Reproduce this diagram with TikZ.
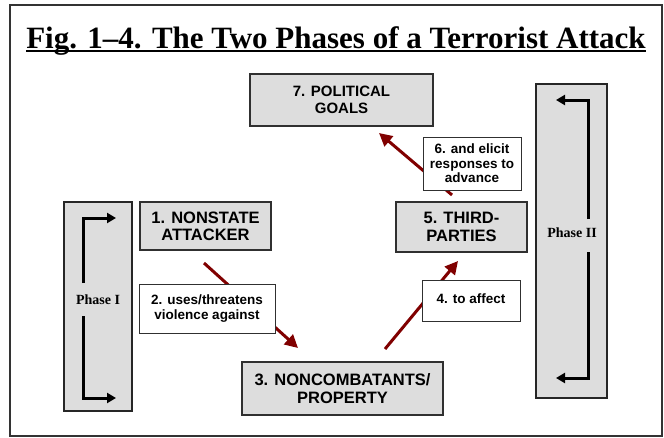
\documentclass[tikz,border=0pt]{standalone}
\usepackage{fontspec}
\setmainfont{Liberation Serif}
\setsansfont{Liberation Sans}
\usetikzlibrary{arrows.meta}

\definecolor{boxgray}{HTML}{DDDDDD}
\definecolor{edgegray}{HTML}{303030}
\definecolor{arrowred}{HTML}{800000}

\tikzset{
    graybox/.style={draw=edgegray, line width=1.3pt, fill=boxgray, align=center, inner sep=0pt},
    labelbox/.style={draw=edgegray, line width=0.8pt, fill=white, align=center, inner sep=0pt,
        font=\sffamily\bfseries\fontsize{13.5}{14.5}\selectfont},
    phasebox/.style={draw=black!85, line width=1.5pt, fill=boxgray, inner sep=0pt},
    phaselabel/.style={font=\bfseries\fontsize{14}{14}\selectfont},
    redarrow/.style={draw=arrowred, line width=3pt, -{Triangle[length=13pt,width=13pt]}},
    phasearrow/.style={draw=black, line width=3pt, -{Triangle[length=9pt,width=10pt]}},
}

\begin{document}
\begin{tikzpicture}[x=1pt, y=-1pt]

    \useasboundingbox (0,0) rectangle (664,437);

    % Marco y titulo
    \draw[line width=1.5pt, draw=black!80] (10,5) rectangle (662,436);
    \node[anchor=base, inner sep=0pt, font=\bfseries\fontsize{31}{31}\selectfont] (title) at (336,48)
        {Fig. 1–4. The Two Phases of a Terrorist Attack};
    \draw[line width=1.8pt] ([yshift=-3pt]title.base west) -- ([yshift=-3pt]title.base east);

    % Cajas de las fases
    \node[phasebox, minimum width=68pt, minimum height=209pt] (phaseIbox) at (98,306.5) {};
    \node[phasebox, minimum width=71pt, minimum height=314pt] (phaseIIbox) at (571.5,241) {};
    \node[phaselabel] (phaseI) at (98,300) {Phase I};
    \node[phaselabel] (phaseII) at (572,233) {Phase II};

    % Flechas de las fases
    \coordinate (pIup) at (83,283);   \coordinate (pIupend) at (116,218);
    \coordinate (pIdown) at (83,316); \coordinate (pIdownend) at (116,398);
    \coordinate (pIIup) at (588,219);   \coordinate (pIIupend) at (556,100);
    \coordinate (pIIdown) at (588,252); \coordinate (pIIdownend) at (556,378);
    \draw[phasearrow] (pIup) |- (pIupend);
    \draw[phasearrow] (pIdown) |- (pIdownend);
    \draw[phasearrow] (pIIup) |- (pIIupend);
    \draw[phasearrow] (pIIdown) |- (pIIdownend);

    % Cajas grises
    \node[graybox, minimum width=183pt, minimum height=52pt, font=\sffamily\bfseries\fontsize{15}{17}\selectfont]
        (goals) at (341.5,100) {7. POLITICAL\\GOALS};
    \node[graybox, minimum width=131pt, minimum height=48pt, font=\sffamily\bfseries\fontsize{16.5}{17}\selectfont]
        (attacker) at (205.5,226) {1. NONSTATE\\ATTACKER};
    \node[graybox, minimum width=201pt, minimum height=53pt, font=\sffamily\bfseries\fontsize{16.5}{18}\selectfont]
        (targets) at (342.5,388.5) {3. NONCOMBATANTS/\\PROPERTY};
    \node[graybox, minimum width=131pt, minimum height=50pt, font=\sffamily\bfseries\fontsize{16.5}{18}\selectfont]
        (thirdparties) at (461.5,227) {5. THIRD-\\PARTIES};

    % Flechas rojas
    \coordinate (uses) at (204,263);   \coordinate (usesend) at (298,348);
    \coordinate (affect) at (385,349); \coordinate (affectend) at (458,261);
    \coordinate (elicit) at (452,195); \coordinate (elicitend) at (379,133);
    \draw[redarrow] (uses) -- (usesend);
    \draw[redarrow] (affect) -- (affectend);
    \draw[redarrow] (elicit) -- (elicitend);

    % Etiquetas blancas
    \node[labelbox, minimum width=136pt, minimum height=49pt] (usesbox) at (207,308.5)
        {2. uses/threatens\\violence against};
    \node[labelbox, minimum width=98pt, minimum height=41pt] (affectbox) at (471,300.5)
        {\raisebox{3pt}{4. to affect}};
    \node[labelbox, minimum width=98pt, minimum height=53pt] (elicitbox) at (472,163.5)
        {6. and elicit\\responses to\\advance};

\end{tikzpicture}
\end{document}
